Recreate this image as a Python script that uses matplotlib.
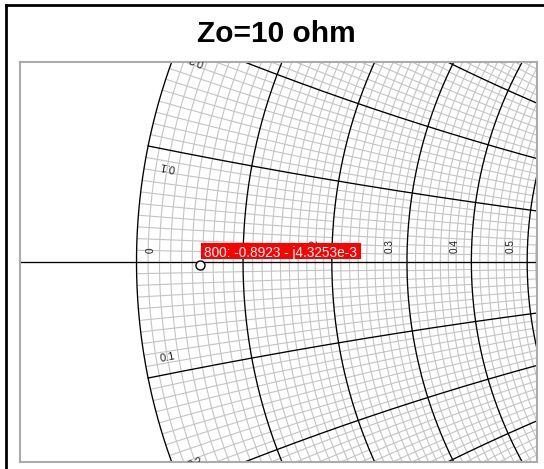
import numpy as np
import matplotlib
matplotlib.use("Agg")
import matplotlib.pyplot as plt
from matplotlib.lines import Line2D
from matplotlib.patches import Rectangle
from matplotlib.collections import LineCollection

# ---- data ----
title = "Zo=10 ohm"
r_major = [0.0, 0.1, 0.2, 0.3, 0.4, 0.5, 0.6, 0.7, 0.8, 0.9, 1.0]
x_major = [0.1, 0.2, 0.3, 0.4, 0.5, 0.6, 0.7, 0.8, 0.9, 1.0]
max_minor_divisions = 10
r_label_values = [0.0, 0.2, 0.3, 0.4, 0.5]
r_label_texts = ["0", "0.2", "0.3", "0.4", "0.5"]
x_label_values = [0.1, 0.2]
x_label_texts = ["0.1", "0.2"]
marker_index = "800"
marker_re = -0.8923
marker_im = -4.3253e-3

# ---- layout ----
W, H = 544, 469
S = 586.0              # pixels per unit of reflection coefficient
CX, CY = 136.5, 262.0  # pixel position of gamma = -1
MINOR_PX = 8.0         # target pixel spacing of the fine grid
fig = plt.figure(figsize=(W / 100, H / 100), dpi=100)
ax = fig.add_axes([20 / W, (H - 462) / H, 517 / W, 400 / H])
ax.set_xlim(-1 - (CX - 20) / S, -1 + (537 - CX) / S)
ax.set_ylim(-(462 - CY) / S, (CY - 62) / S)
ax.set_xticks([]); ax.set_yticks([])
for sp in ax.spines.values():
    sp.set_color("#ababab"); sp.set_linewidth(1.5)

def gamma(z):
    return (z - 1) / (z + 1)

def seg(z):
    g = gamma(z)
    return np.column_stack([g.real, g.imag])

# fine grid, subdivided cell by cell
x_edges = sorted([-v for v in x_major] + [0.0] + x_major)
minor_segs = []
for r0, r1 in zip(r_major[:-1], r_major[1:]):
    for x0, x1 in zip(x_edges[:-1], x_edges[1:]):
        rm, xm = (r0 + r1) / 2, (x0 + x1) / 2
        len_r = abs(gamma(r1 + 1j * xm) - gamma(r0 + 1j * xm)) * S
        len_x = abs(gamma(rm + 1j * x1) - gamma(rm + 1j * x0)) * S
        n_r = int(min(max_minor_divisions, max(1, round(len_r / MINOR_PX))))
        n_x = int(min(max_minor_divisions, max(1, round(len_x / MINOR_PX))))
        xs = np.linspace(x0, x1, 60)
        rs = np.linspace(r0, r1, 60)
        for k in range(1, n_r):
            rr = r0 + k * (r1 - r0) / n_r
            minor_segs.append(seg(rr + 1j * xs))
        for k in range(1, n_x):
            xx = x0 + k * (x1 - x0) / n_x
            minor_segs.append(seg(rs + 1j * xx))
ax.add_collection(LineCollection(minor_segs, colors="#c4c4c4",
                                 linewidths=0.8, zorder=1))

# major grid
t = np.linspace(-np.pi / 2 + 1e-4, np.pi / 2 - 1e-4, 3000)
p = np.linspace(0, np.pi / 2 - 1e-4, 3000)
for r in r_major:
    g = gamma(r + 1j * np.tan(t))
    ax.plot(g.real, g.imag, color="black", lw=0.95, zorder=2)
for x in x_major:
    for s in (1, -1):
        g = gamma(np.tan(p) + 1j * s * x)
        ax.plot(g.real, g.imag, color="black", lw=0.95, zorder=2)
ax.axhline(0, color="black", lw=0.95, zorder=2)

lab_font = dict(family="Liberation Sans", color="#202020")
for r, txt in zip(r_label_values, r_label_texts):
    g = gamma(r)
    dx = 14 / S if r == 0 else -17 / S
    ax.text(g + dx, 9 / S, txt, rotation=90, ha="center", va="bottom",
            zorder=3, fontsize=7.2, **lab_font)

for x, txt in zip(x_label_values, x_label_texts):
    for s in (1, -1):
        g = gamma(0.02 + 1j * s * (x - 0.015))
        c = 1 + 1j / (s * x)
        tan_ = (g - c) * 1j
        ang = np.degrees(np.arctan2(abs(tan_.imag), abs(tan_.real)))
        rot = ang if s < 0 else 180 - ang
        ax.text(g.real, g.imag, txt, rotation=rot, rotation_mode="anchor",
                ha="center", va="center", zorder=3, clip_on=True,
                fontsize=8.0, **lab_font)

# marker and its readout
ax.plot([marker_re], [marker_im], "o", ms=6.5, mfc="white", mec="black",
        mew=1.0, zorder=5)
ax.add_patch(Rectangle((marker_re + 1.0 / S, marker_im + 5.5 / S), 160 / S,
                       16 / S, facecolor="#ff0000", edgecolor="none",
                       zorder=6))
ax.text(marker_re + 4.0 / S, marker_im + 8 / S,
        f"{marker_index}: {marker_re:.4f} - j{abs(marker_im) * 1e3:.4f}e-3",
        family="Liberation Sans", fontsize=9.85, color="white",
        ha="left", va="baseline", zorder=7)

# title
fig.text(276 / W, 1 - 42 / H, title, family="Liberation Sans",
         fontweight="bold", fontsize=21.5, ha="center", va="baseline")

# outer border (left and top)
fig.add_artist(Line2D([6 / W, 6 / W], [0, 1 - 5 / H], color="black", lw=2.0,
                      transform=fig.transFigure))
fig.add_artist(Line2D([6 / W, 1], [1 - 5 / H, 1 - 5 / H], color="black",
                      lw=2.0, transform=fig.transFigure))

fig.savefig("out.png", dpi=100)
